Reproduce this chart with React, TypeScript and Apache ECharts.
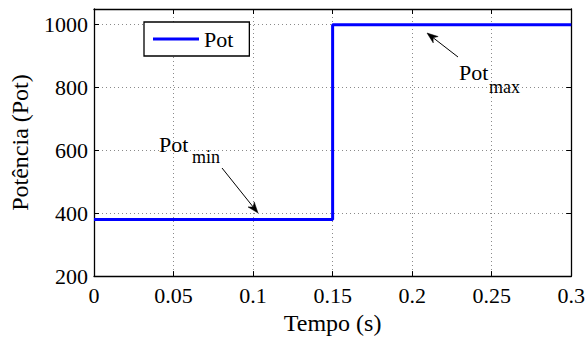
import React, { useEffect, useRef } from "react";
import * as echarts from "echarts";

const timeValues = [0, 0.15, 0.15, 0.3];
const powerValues = [380, 380, 1000, 1000];
const xTickLabels = ["0", "0.05", "0.1", "0.15", "0.2", "0.25", "0.3"];
const yTickLabels = ["200", "400", "600", "800", "1000"];
const seriesName = "Pot";

const FONT = "serif";

function arrowHead(x1: number, y1: number, x2: number, y2: number, len = 11, half = 4) {
  const dx = x2 - x1;
  const dy = y2 - y1;
  const L = Math.sqrt(dx * dx + dy * dy);
  const ux = dx / L;
  const uy = dy / L;
  const bx = x2 - ux * len;
  const by = y2 - uy * len;
  const px = -uy * half;
  const py = ux * half;
  return [
    [x2, y2],
    [bx + px, by + py],
    [x2 - ux * len * 0.7, y2 - uy * len * 0.7],
    [bx - px, by - py],
  ];
}

function arrow(x1: number, y1: number, x2: number, y2: number) {
  return [
    {
      type: "line",
      shape: { x1, y1, x2: x2 - (x2 - x1) * 0.05, y2: y2 - (y2 - y1) * 0.05 },
      style: { stroke: "#000", lineWidth: 1 },
      z: 100,
    },
    {
      type: "polygon",
      shape: { points: arrowHead(x1, y1, x2, y2) },
      style: { fill: "#000", stroke: "#000", lineWidth: 0.5 },
      z: 100,
    },
  ];
}

export default function App() {
  const ref = useRef<HTMLDivElement>(null);
  useEffect(() => {
    if (!ref.current) return;
    const chart = echarts.init(ref.current, undefined, { renderer: "svg" });
    const data = timeValues.map((t, i) => [t, powerValues[i]]);
    const gridLine = { show: true, lineStyle: { color: "#8a8a8a", type: [1, 3] as any, width: 1 } };
    const axisLine = { show: true, onZero: false, lineStyle: { color: "#000", width: 1.3 } };
    const tick = { show: true, inside: true, length: 5, lineStyle: { color: "#000", width: 1 } };
    chart.setOption({
      animation: false,
      backgroundColor: "#fff",
      textStyle: { fontFamily: FONT },
      grid: { left: 90, right: 14, top: 9, bottom: 52, show: false },
      legend: {
        show: true,
        data: [{ name: seriesName, icon: "rect" }],
        left: 144,
        top: 22,
        orient: "horizontal",
        backgroundColor: "#fff",
        borderColor: "#000",
        borderWidth: 1.3,
        borderRadius: 0,
        padding: [6, 16, 6, 9],
        itemWidth: 46,
        itemHeight: 3,
        itemGap: 5,
        itemStyle: { color: "#0000ff", borderWidth: 0 },
        textStyle: { fontFamily: FONT, fontSize: 22, color: "#000", lineHeight: 22 },
      },
      xAxis: [
        {
          type: "value",
          min: 0,
          max: 0.3,
          interval: 0.05,
          name: "Tempo (s)",
          nameLocation: "middle",
          nameGap: 27,
          nameTextStyle: { fontFamily: FONT, fontSize: 24, color: "#000" },
          axisLine,
          axisTick: tick,
          splitLine: gridLine,
          axisLabel: {
            fontFamily: FONT,
            fontSize: 22,
            color: "#000",
            margin: 8,
            formatter: (v: number) => xTickLabels[Math.round(v / 0.05)] ?? "",
          },
        },
        {
          type: "value",
          position: "top",
          min: 0,
          max: 0.3,
          interval: 0.05,
          axisLine,
          axisTick: tick,
          splitLine: { show: false },
          axisLabel: { show: false },
        },
      ],
      yAxis: [
        {
          type: "value",
          min: 200,
          max: 1050,
          interval: 200,
          name: "Potência (Pot)",
          nameLocation: "middle",
          nameGap: 62,
          nameTextStyle: { fontFamily: FONT, fontSize: 24, color: "#000" },
          axisLine,
          axisTick: tick,
          splitLine: gridLine,
          axisLabel: {
            fontFamily: FONT,
            fontSize: 22,
            color: "#000",
            margin: 6,
            showMaxLabel: false,
            formatter: (v: number) => {
              const idx = Math.round((v - 200) / 200);
              return Math.abs(v - (200 + idx * 200)) < 1e-6 ? yTickLabels[idx] ?? "" : "";
            },
          },
        },
        {
          type: "value",
          position: "right",
          min: 200,
          max: 1050,
          interval: 200,
          axisLine,
          axisTick: tick,
          splitLine: { show: false },
          axisLabel: { show: false },
        },
      ],
      series: [
        {
          name: seriesName,
          type: "line",
          data,
          symbol: "none",
          showSymbol: false,
          lineStyle: { color: "#0000ff", width: 3 },
          itemStyle: { color: "#0000ff" },
          z: 5,
        },
      ],
      graphic: [
        { type: "text", x: 159, y: 144, style: { text: "Pot", fontFamily: FONT, fontSize: 22, fill: "#000", verticalAlign: "middle" }, z: 100 },
        { type: "text", x: 192, y: 157, style: { text: "min", fontFamily: FONT, fontSize: 18, fill: "#000", verticalAlign: "middle" }, z: 100 },
        ...arrow(222, 168, 258, 213),
        { type: "text", x: 459, y: 72, style: { text: "Pot", fontFamily: FONT, fontSize: 22, fill: "#000", verticalAlign: "middle" }, z: 100 },
        { type: "text", x: 489, y: 87, style: { text: "max", fontFamily: FONT, fontSize: 18, fill: "#000", verticalAlign: "middle" }, z: 100 },
        ...arrow(458, 57, 427, 33),
      ],
    });
    return () => chart.dispose();
  }, []);
  return <div ref={ref} style={{ width: 588, height: 340, position: "absolute", left: 0, top: 0 }} />;
}
